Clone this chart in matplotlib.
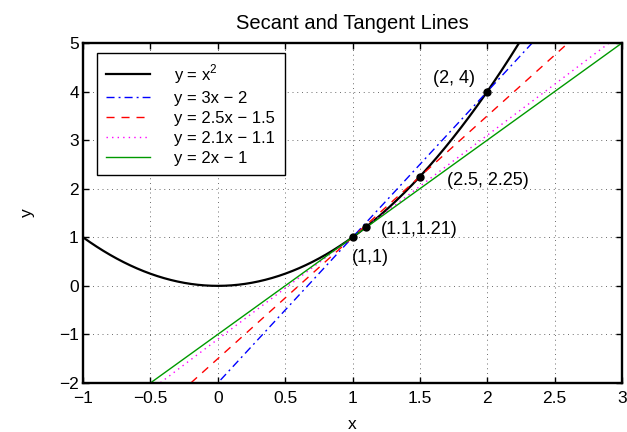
import numpy as np
import matplotlib
matplotlib.use("Agg")
import matplotlib.pyplot as plt

plt.rcParams['font.family'] = ['Liberation Sans', 'DejaVu Sans']

# data
x_range = (-1, 3)
y_range = (-2, 5)
slopes = [3, 2.5, 2.1, 2]
intercepts = [-2, -1.5, -1.1, -1]
labels = ['y = x$^\\mathregular{2}$', 'y = 3x \u2212 2', 'y = 2.5x \u2212 1.5',
          'y = 2.1x \u2212 1.1', 'y = 2x \u2212 1']
colors = ['blue', 'red', 'magenta', (0, 0.6, 0)]
dashes = [(5.8, 2.9, 1.4, 2.9), (5.8, 5.0), (1.0, 3.0), None]
pts_x = [1, 1.1, 1.5, 2]
pts_y = [1, 1.21, 2.25, 4]
ann_text = ['(1,1)', '(1.1,1.21)', '(2.5, 2.25)', '(2, 4)']
ann_pos = [(0.996, 0.59), (1.212, 1.15), (1.701, 2.16), (1.597, 4.26)]
xticks = [-1, -0.5, 0, 0.5, 1, 1.5, 2, 2.5, 3]
xticklabels = ['\u22121', '\u22120.5', '0', '0.5', '1', '1.5', '2', '2.5', '3']
yticks = [-2, -1, 0, 1, 2, 3, 4, 5]
yticklabels = ['\u22122', '\u22121', '0', '1', '2', '3', '4', '5']

fig = plt.figure(figsize=(6.27, 4.32), dpi=100)
ax = fig.add_axes([83/627, 1 - 383/432, 539/627, 340/432])

xs = np.linspace(x_range[0], x_range[1], 400)
ax.plot(xs, xs**2, color='black', lw=1.6, label=labels[0])
for m, b, c, d, lab in zip(slopes, intercepts, colors, dashes, labels[1:]):
    ln, = ax.plot(xs, m*xs + b, color=c, lw=1.0, label=lab)
    if d is not None:
        ln.set_dashes(d)
ax.plot(pts_x, pts_y, 'o', color='black', ms=5, zorder=5)
for t, (tx, ty) in zip(ann_text, ann_pos):
    ax.text(tx, ty, t, fontsize=13, va='center', ha='left')

ax.set_xlim(*x_range)
ax.set_ylim(*y_range)
ax.set_xticks(xticks)
ax.set_xticklabels(xticklabels)
ax.set_yticks(yticks)
ax.set_yticklabels(yticklabels)
ax.tick_params(direction='in', length=4, width=1, labelsize=12.5)
ax.tick_params(axis='x', pad=6)
ax.tick_params(axis='y', pad=3)
ax.tick_params(top=True, right=True)
ax.grid(True, ls=(0, (1.2, 4.5)), color='0.35', lw=0.6)
for sp in ax.spines.values():
    sp.set_linewidth(1.7)
ax.set_xlabel('x', fontsize=12.5, labelpad=8)
ax.set_ylabel('y', fontsize=12.5, labelpad=17)
ax.set_title('Secant and Tangent Lines', fontsize=14.5, pad=10)

leg = ax.legend(loc='upper left', fontsize=12, frameon=True, fancybox=False,
                edgecolor='black', handlelength=2.6, handletextpad=1.5,
                labelspacing=0.3, borderpad=0.55, borderaxespad=0,
                bbox_to_anchor=(14/539, 330/340))
leg.get_frame().set_linewidth(1.0)
leg.get_frame().set_alpha(1)

fig.savefig('out.png', dpi=100)
